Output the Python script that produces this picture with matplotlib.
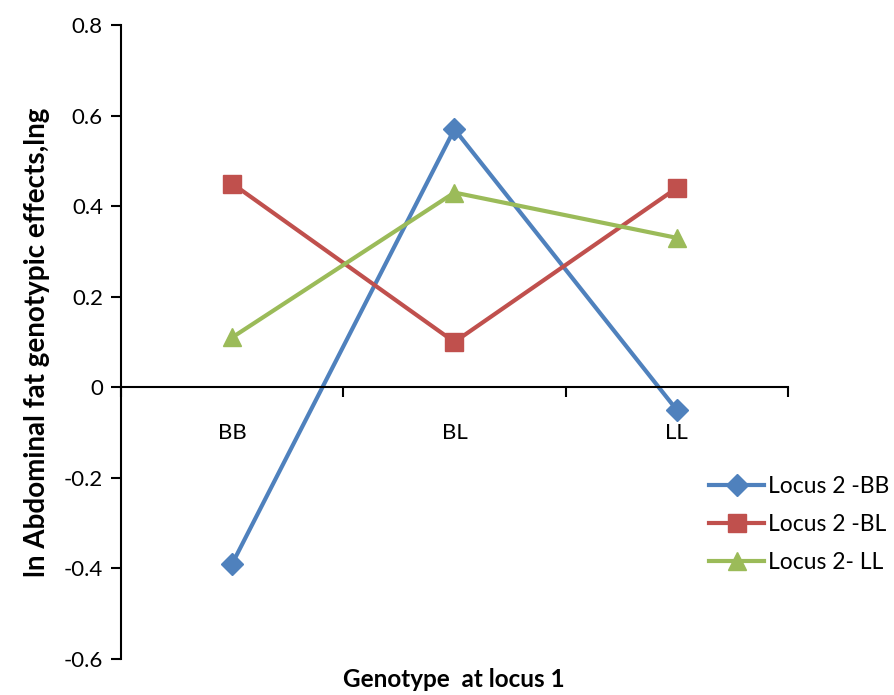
import numpy as np
import matplotlib.pyplot as plt

plt.rcParams['font.family'] = ['Lato', 'DejaVu Sans']

genotypes = ['BB', 'BL', 'LL']
locus2_bb = [-0.39, 0.57, -0.05]
locus2_bl = [0.45, 0.10, 0.44]
locus2_ll = [0.11, 0.43, 0.33]
series_names = ['Locus 2 -BB', 'Locus 2 -BL', 'Locus 2- LL']

colors = ['#4F81BD', '#C0504D', '#9BBB59']
markers = ['D', 's', '^']
msizes = [11, 13, 13]

fig = plt.figure(figsize=(8.94, 6.95), dpi=100)
ax = fig.add_axes([0.1353, 0.0518, 0.746, 0.9122])

x = np.arange(len(genotypes))
for vals, name, c, m, ms in zip([locus2_bb, locus2_bl, locus2_ll],
                                series_names, colors, markers, msizes):
    ax.plot(x, vals, color=c, lw=3, marker=m, ms=ms, label=name)

ax.set_xlim(-0.5, 2.5)
ax.set_ylim(-0.6, 0.8)
ax.set_yticks(np.arange(-0.6, 0.81, 0.2))
ax.set_yticklabels(['-0.6', '-0.4', '-0.2', '0', '0.2', '0.4', '0.6', '0.8'])

# category boundaries as ticks, labels centred on categories
ax.set_xticks([-0.5, 0.5, 1.5, 2.5])
ax.set_xticklabels([])
ax.set_xticks(x, minor=True)
ax.set_xticklabels(genotypes, minor=True)
ax.tick_params(axis='x', which='minor', length=0, pad=26, labelsize=16)
ax.tick_params(axis='x', which='major', length=7, width=1.5, direction='out')
ax.tick_params(axis='y', length=7, width=1.5, direction='out', labelsize=16, pad=6)

ax.spines['top'].set_visible(False)
ax.spines['right'].set_visible(False)
ax.spines['bottom'].set_position(('data', 0))
ax.spines['bottom'].set_linewidth(1.5)
ax.spines['left'].set_linewidth(1.5)

ax.set_ylabel('ln Abdominal fat genotypic effects,lng', fontsize=20,
              fontweight='bold', labelpad=10)
fig.text(0.508, 0.012, 'Genotype  at locus 1', fontsize=17.5,
         fontweight='bold', ha='center')

fig.legend(loc='center left', bbox_to_anchor=(0.783, 0.245), frameon=False,
           fontsize=16.5, handlelength=2.4, labelspacing=0.75, handletextpad=0.15,
           borderaxespad=0)

fig.savefig('out.png', dpi=100)
